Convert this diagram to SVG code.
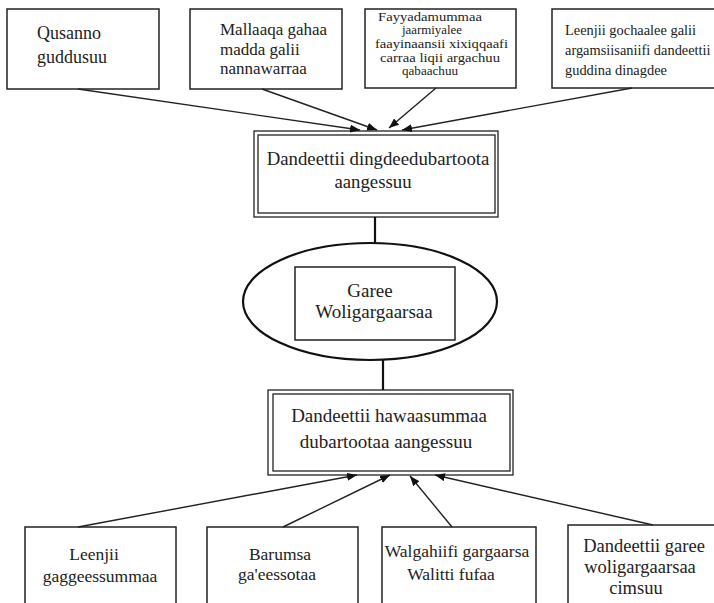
<svg xmlns="http://www.w3.org/2000/svg" width="714" height="603" viewBox="0 0 714 603">
<style>
.box{fill:#fff;stroke:#222;stroke-width:1.5}
.dbl{fill:none;stroke:#222;stroke-width:1.3}
.t{font-family:"Liberation Serif","Times New Roman",serif;fill:#222}
.c{text-anchor:middle}
.con{stroke:#222;stroke-width:1.4;fill:none}
.v{stroke:#111;stroke-width:2.2;fill:none}
</style>
<defs>
<marker id="ah" viewBox="0 0 10 8" refX="10" refY="4" markerWidth="10" markerHeight="8" markerUnits="userSpaceOnUse" orient="auto">
<path d="M0,0 L10,4 L0,8 z" fill="#111"/>
</marker>
</defs>
<rect width="714" height="603" fill="#fff"/>
<g id="top1">
<rect class="box" x="7" y="9" width="152" height="80"/>
<text class="t" font-size="18" x="37" y="39">Qusanno</text>
<text class="t" font-size="18" x="37" y="63">guddusuu</text>
</g>
<g id="top2">
<rect class="box" x="190" y="9" width="152" height="80"/>
<text class="t" font-size="17" x="220" y="35">Mallaaqa gahaa</text>
<text class="t" font-size="17" x="220" y="55">madda galii</text>
<text class="t" font-size="17" x="220" y="74">nannawarraa</text>
</g>
<g id="top3">
<rect class="box" x="365" y="9" width="151" height="79"/>
<text class="t" font-size="12.5" x="378" y="21" textLength="104" lengthAdjust="spacingAndGlyphs">Fayyadamummaa</text>
<text class="t" font-size="12.5" x="402" y="34" textLength="60" lengthAdjust="spacingAndGlyphs">jaarmiyalee</text>
<text class="t" font-size="12.5" x="375" y="48" textLength="133" lengthAdjust="spacingAndGlyphs">faayinaansii xixiqqaafi</text>
<text class="t" font-size="12.5" x="380" y="62" textLength="120" lengthAdjust="spacingAndGlyphs">carraa liqii argachuu</text>
<text class="t" font-size="12.5" x="402" y="75" textLength="56" lengthAdjust="spacingAndGlyphs">qabaachuu</text>
</g>
<g id="top4">
<rect class="box" x="552" y="9" width="170" height="79"/>
<text class="t" font-size="14.4" x="565" y="35">Leenjii gochaalee galii</text>
<text class="t" font-size="14.4" x="565" y="55">argamsiisaniifi dandeettii</text>
<text class="t" font-size="14.4" x="565" y="75">guddina dinagdee</text>
</g>
<g id="mid1">
<rect class="dbl" x="254" y="131" width="244" height="86"/>
<rect class="dbl" x="258" y="135" width="237" height="78"/>
<text class="t c" font-size="18.8" x="378" y="165">Dandeettii dingdeedubartoota</text>
<text class="t c" font-size="18.8" x="373" y="188">aangessuu</text>
</g>
<g id="center">
<ellipse cx="370" cy="301.5" rx="127" ry="58.5" fill="#fff" stroke="#111" stroke-width="2.2"/>
<rect class="box" x="295" y="267" width="160" height="73"/>
<text class="t c" font-size="19" x="370" y="297">Garee</text>
<text class="t c" font-size="19" x="374" y="318">Woligargaarsaa</text>
</g>
<g id="mid2">
<rect class="dbl" x="268" y="390" width="245" height="85"/>
<rect class="dbl" x="273" y="394" width="237" height="77"/>
<text class="t c" font-size="19" x="389" y="422">Dandeettii hawaasummaa</text>
<text class="t c" font-size="19" x="386" y="448">dubartootaa aangessuu</text>
</g>
<g id="bot1">
<rect class="box" x="25" y="527" width="151" height="90"/>
<text class="t c" font-size="17.5" x="94" y="560">Leenjii</text>
<text class="t c" font-size="17.5" x="100" y="582">gaggeessummaa</text>
</g>
<g id="bot2">
<rect class="box" x="207" y="527" width="151" height="90"/>
<text class="t c" font-size="17.5" x="280" y="560">Barumsa</text>
<text class="t c" font-size="17.5" x="277" y="580">ga'eessotaa</text>
</g>
<g id="bot3">
<rect class="box" x="382" y="527" width="154" height="90"/>
<text class="t c" font-size="17.5" x="457" y="557">Walgahiifi gargaarsa</text>
<text class="t c" font-size="17.5" x="451" y="580">Walitti fufaa</text>
</g>
<g id="bot4">
<rect class="box" x="568" y="525" width="160" height="92"/>
<text class="t c" font-size="18.5" x="644" y="552">Dandeettii garee</text>
<text class="t c" font-size="18.5" x="640" y="573">woligargaarsaa</text>
<text class="t c" font-size="18.5" x="636" y="594">cimsuu</text>
</g>
<g id="connectors">
<line class="con" x1="78" y1="89" x2="360" y2="130" marker-end="url(#ah)"/>
<line class="con" x1="262" y1="89" x2="377" y2="130" marker-end="url(#ah)"/>
<line class="con" x1="436" y1="88" x2="389" y2="128" marker-end="url(#ah)"/>
<line class="con" x1="632" y1="88" x2="402" y2="130" marker-end="url(#ah)"/>
<line class="v" x1="375" y1="217" x2="375" y2="243"/>
<line class="v" x1="383" y1="360" x2="383" y2="390"/>
<line class="con" x1="78" y1="527" x2="357" y2="475" marker-end="url(#ah)"/>
<line class="con" x1="283" y1="527" x2="390" y2="475" marker-end="url(#ah)"/>
<line class="con" x1="452" y1="527" x2="410" y2="476" marker-end="url(#ah)"/>
<line class="con" x1="653" y1="525" x2="435" y2="475" marker-end="url(#ah)"/>
</g>
</svg>
